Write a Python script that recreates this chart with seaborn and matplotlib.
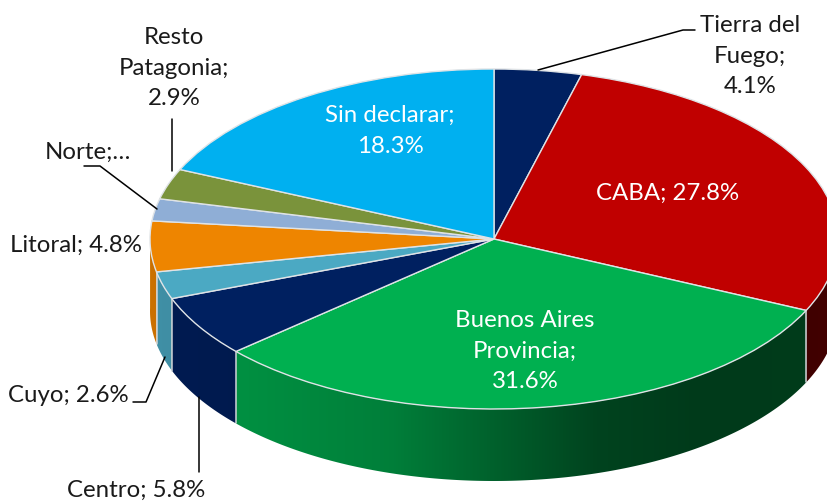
import numpy as np
import seaborn as sns
import matplotlib
matplotlib.use("Agg")
import matplotlib.pyplot as plt
from matplotlib.patches import Polygon

# datos de la torta
regiones = ['Tierra del Fuego', 'CABA', 'Buenos Aires Provincia', 'Centro', 'Cuyo',
            'Litoral', 'Norte', 'Resto Patagonia', 'Sin declarar']
valores = [4.1, 27.8, 31.6, 5.8, 2.6, 4.8, 2.1, 2.9, 18.3]
colores = ['#002060', '#C00000', '#00B050', '#002060', '#4BA9C3',
           '#EE8500', '#8FAED6', '#7A933B', '#00B0F0']

sns.set_style("white")
plt.rcParams['font.family'] = ['Lato', 'DejaVu Sans']

W, H = 827, 502
CX, CY, RX, RY = 494, 240, 344, 170
PROF = 72 / RY  # altura del cilindro


def px(x, y):
    # de pixeles de la imagen a unidades de la torta
    return (x - CX) / RX, (CY - y) / RY


fig = plt.figure(figsize=(W / 100, H / 100), dpi=100)
ax = fig.add_axes([0, 0, 1, 1])

paleta = sns.color_palette(colores)
ax.pie(valores, colors=paleta, startangle=90, counterclock=False,
       wedgeprops=dict(edgecolor='#dfe3e6', linewidth=1.0, zorder=3))
ax.set_aspect('auto')

# pared lateral: degradado segun la posicion horizontal
limites = 90 - 3.6 * np.cumsum([0] + valores) * 100 / sum(valores)
for i, color in enumerate(paleta):
    t = np.radians(np.linspace(limites[i], limites[i + 1], 160))
    t = t[np.sin(t) <= 0.02]
    if len(t) < 2:
        continue
    xs, ys = np.cos(t), np.sin(t)
    x0, x1 = xs.min(), xs.max()
    f = np.interp(np.linspace(x0, x1, 200), [-1, -0.75, -0.3, 0.0, 0.3, 0.6, 1],
                  [0.85, 0.82, 0.72, 0.55, 0.38, 0.33, 0.34])
    grad = f[None, :, None] * np.array(color)[None, None, :]
    im = ax.imshow(grad, extent=[x0, x1, ys.min() - PROF, ys.max()], aspect='auto',
                   interpolation='bilinear', zorder=2)
    borde = np.vstack([np.column_stack([xs, ys]), np.column_stack([xs, ys - PROF])[::-1]])
    im.set_clip_path(Polygon(borde, transform=ax.transData))
    # separador entre porciones
    if ys[0] < 0:
        ax.plot([xs[0], xs[0]], [ys[0], ys[0] - PROF], color='#cfd3d6', lw=1.1, zorder=2.5)

ax.set_xlim(px(0, 0)[0], px(W, 0)[0])
ax.set_ylim(px(0, H)[1], px(0, 0)[1])
ax.axis('off')

# lineas guia
guias = [[(538, 71), (683, 31), (695, 31)],
         [(172, 120), (172, 172)],
         [(84, 167), (100, 167), (157, 210)],
         [(133, 403), (146, 403), (165, 358)],
         [(199, 398), (199, 473)]]
for g in guias:
    ax.plot(*zip(*[px(*p) for p in g]), color='black', lw=1.1, zorder=4)

# etiquetas
oscuro = '#1a1a1a'
etiquetas = [('Tierra del\nFuego;\n4.1%', 750, 56, oscuro),
             ('CABA; 27.8%', 668, 193, 'white'),
             ('Buenos Aires\nProvincia;\n31.6%', 525, 351, 'white'),
             ('Centro; 5.8%', 136, 490, oscuro),
             ('Cuyo; 2.6%', 68, 395, oscuro),
             ('Litoral; 4.8%', 76, 245, oscuro),
             ('Norte;…', 88, 152, oscuro),
             ('Resto\nPatagonia;\n2.9%', 174, 68, oscuro),
             ('Sin declarar;\n18.3%', 390, 131, 'white')]
for txt, x, y, c in etiquetas:
    ax.text(*px(x, y), txt, color=c, fontsize=17.3, ha='center', va='center',
            linespacing=1.58, zorder=5)

fig.savefig('out.png', dpi=100)
